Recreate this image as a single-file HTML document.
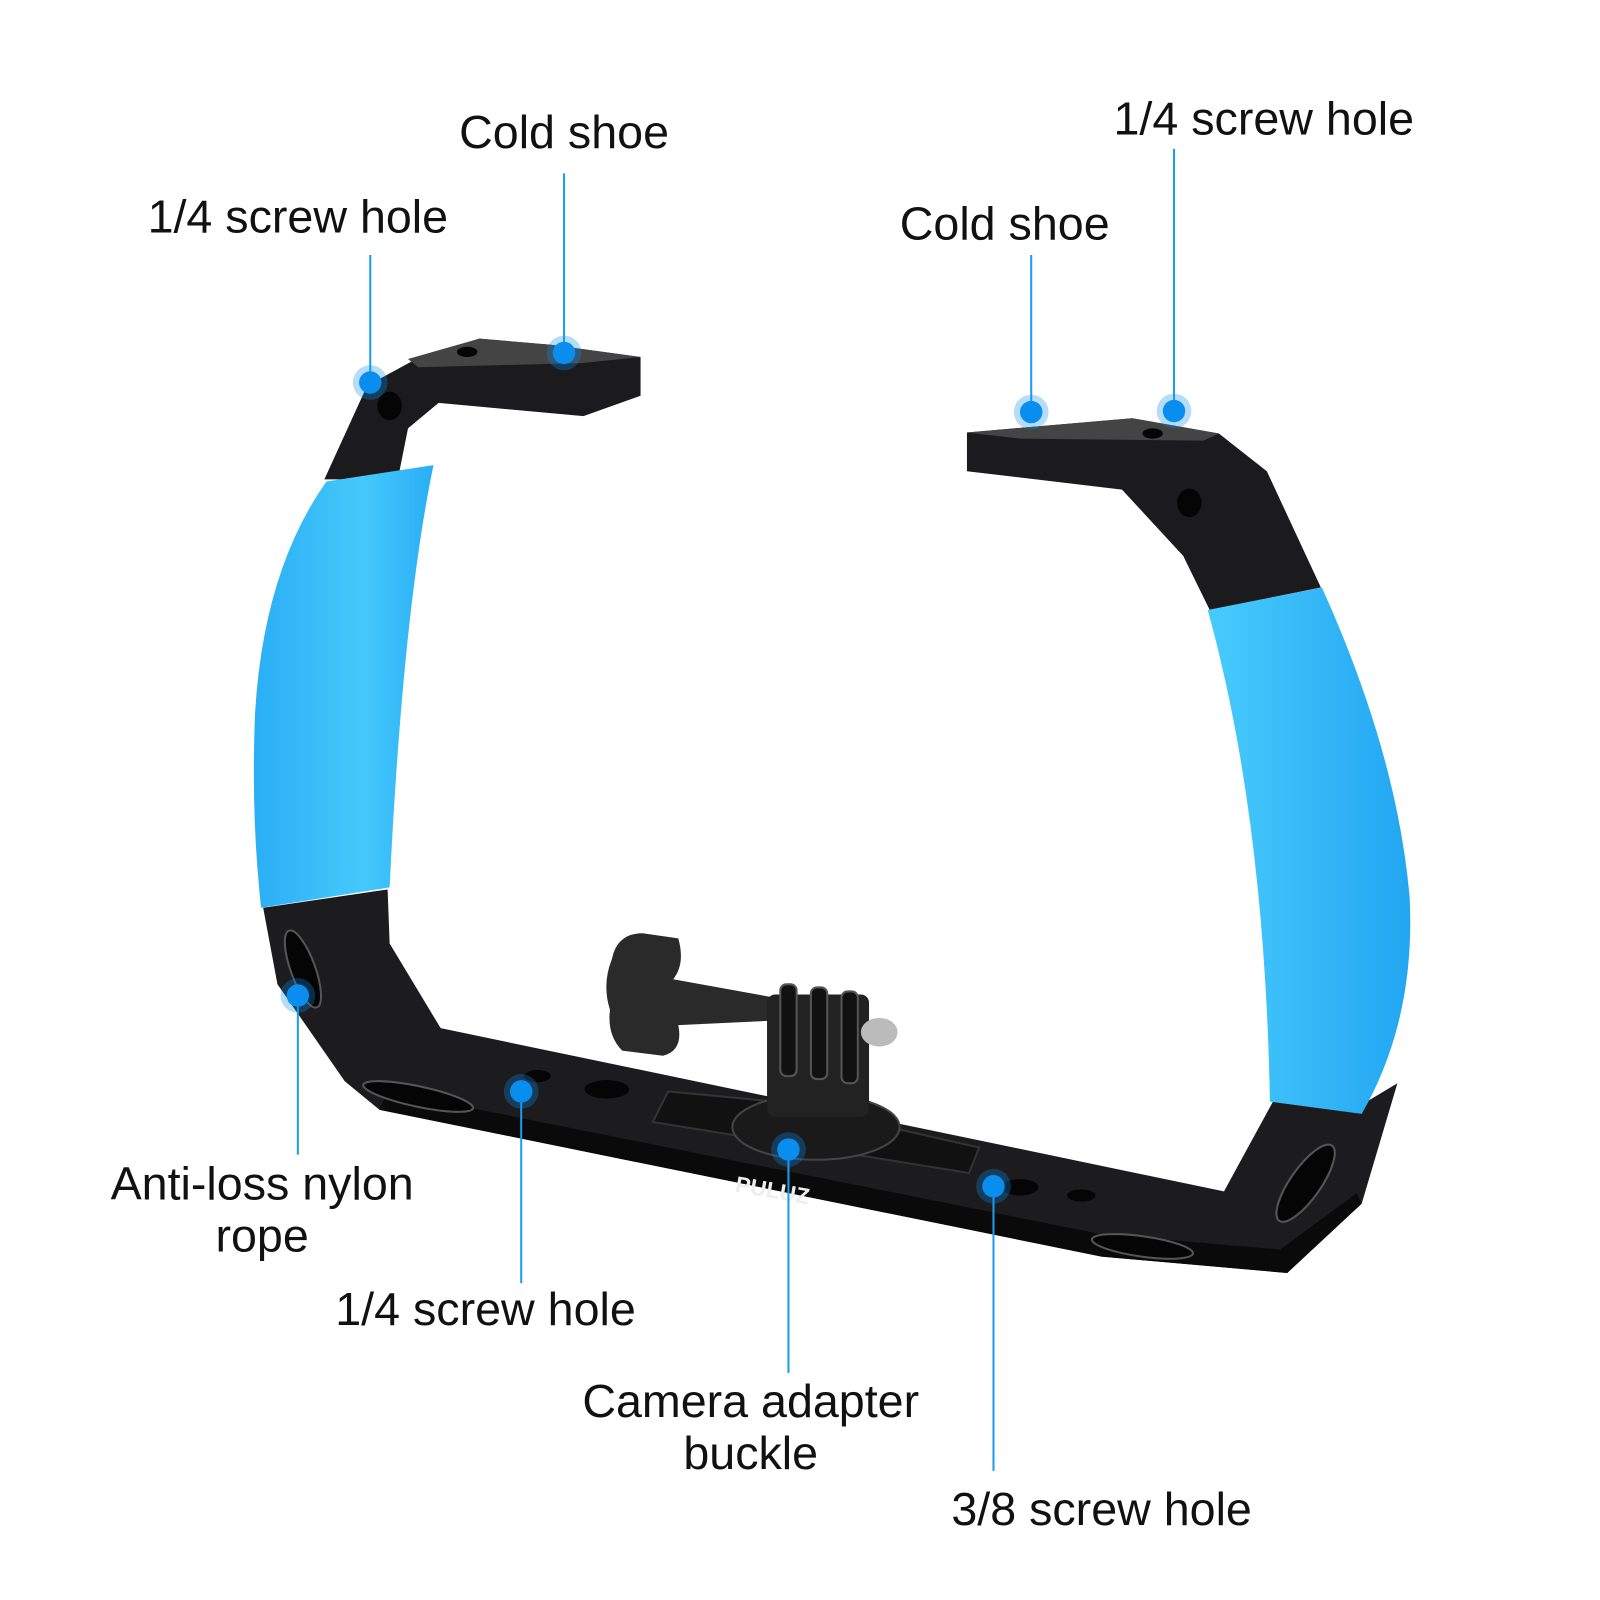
<!DOCTYPE html>
<html><head><meta charset="utf-8"><style>
html,body{margin:0;padding:0;background:#fff;width:1600px;height:1600px;overflow:hidden}
svg{display:block}
text{font-family:"Liberation Sans",sans-serif;font-size:45.7px;fill:#111}
</style></head><body>
<svg width="1600" height="1600" viewBox="0 0 1600 1600">
<defs>
<linearGradient id="bl" x1="0" x2="1" y1="0" y2="0"><stop offset="0" stop-color="#2aaef5"/><stop offset="0.6" stop-color="#45c9fb"/><stop offset="1" stop-color="#2aaef5"/></linearGradient>
<linearGradient id="br" x1="0" x2="1" y1="0" y2="0"><stop offset="0" stop-color="#48cbfc"/><stop offset="1" stop-color="#22a6f2"/></linearGradient>
</defs>
<g transform="scale(1.02)">
<!-- bottom bar -->
<polygon points="258,890 380,872 382,925 432,1008 1200,1168 1248,1080 1340,1080 1370,1062 1335,1180 1262,1248 1080,1232 372,1088 338,1060 272,965" fill="#1c1c1e"/>
<polygon points="372,1088 1080,1232 1262,1248 1335,1180 1330,1170 1255,1225 1080,1210 380,1070" fill="#0a0a0a"/>
<ellipse cx="410" cy="1075" rx="55" ry="10" transform="rotate(12 410 1075)" fill="#050505" stroke="#555" stroke-width="2"/>
<ellipse cx="1120" cy="1222" rx="50" ry="10" transform="rotate(8 1120 1222)" fill="#050505" stroke="#555" stroke-width="2"/>
<ellipse cx="297" cy="950" rx="12" ry="40" transform="rotate(-20 297 950)" fill="#050505" stroke="#555" stroke-width="2"/>
<ellipse cx="1280" cy="1160" rx="15" ry="45" transform="rotate(35 1280 1160)" fill="#050505" stroke="#555" stroke-width="2"/>
<ellipse cx="527" cy="1055" rx="13" ry="6" fill="#050505"/>
<ellipse cx="595" cy="1068" rx="22" ry="9" fill="#050505"/>
<ellipse cx="1000" cy="1164" rx="18" ry="8" fill="#050505"/>
<ellipse cx="1060" cy="1172" rx="14" ry="6" fill="#050505"/>
<polygon points="655,1070 760,1080 960,1125 950,1150 640,1100" fill="#111" stroke="#333" stroke-width="2"/>
<text x="720" y="1168" transform="rotate(10 720 1168)" style="font-size:22px;font-weight:bold;fill:#eee">PULUZ</text>
<!-- left top bracket -->
<polygon points="318,470 360,378 408,352 470,332 540,338 628,350 628,388 572,408 430,395 400,420 390,470" fill="#1b1b1d"/>
<polygon points="400,352 470,332 540,338 628,350 570,356 410,360" fill="#444"/>
<ellipse cx="382" cy="398" rx="12" ry="14" fill="#050505"/>
<ellipse cx="458" cy="345" rx="10" ry="5" fill="#050505"/>
<!-- left grip -->
<path d="M320,472 L425,456 Q395,600 382,870 L256,890 Q246,800 250,700 Q258,560 320,472Z" fill="url(#bl)"/>
<!-- right top bracket -->
<polygon points="948,424 1110,410 1195,425 1242,462 1295,576 1186,598 1160,545 1100,480 948,462" fill="#1b1b1d"/>
<polygon points="948,424 1110,410 1195,425 1180,432 1000,430" fill="#444"/>
<ellipse cx="1166" cy="493" rx="12" ry="14" fill="#050505"/>
<ellipse cx="1130" cy="425" rx="10" ry="5" fill="#050505"/>
<!-- right grip -->
<path d="M1184,598 L1296,576 Q1370,740 1382,880 Q1388,1000 1335,1092 L1245,1080 Q1240,800 1184,598Z" fill="url(#br)"/>
<!-- mount -->
<ellipse cx="800" cy="1105" rx="82" ry="32" fill="#1a1a1a" stroke="#444" stroke-width="2"/>
<path d="M600,940 Q605,915 630,915 L665,920 Q672,945 660,960 L770,980 L770,1000 L665,1005 Q670,1030 650,1035 L610,1030 Q595,1015 598,990 Q590,965 600,940Z" fill="#2a2a2a"/>
<rect x="752" y="975" width="100" height="120" rx="8" fill="#222"/>
<rect x="765" y="965" width="16" height="90" rx="6" fill="#111" stroke="#555" stroke-width="2"/>
<rect x="795" y="968" width="16" height="90" rx="6" fill="#111" stroke="#555" stroke-width="2"/>
<rect x="825" y="972" width="16" height="90" rx="6" fill="#111" stroke="#555" stroke-width="2"/>
<ellipse cx="862" cy="1012" rx="18" ry="14" fill="#bbb"/>
<!-- connectors -->
<g stroke="#1a9cf0" stroke-width="2">
<line x1="553" y1="170" x2="553" y2="346"/>
<line x1="363" y1="250" x2="363" y2="375"/>
<line x1="1011" y1="250" x2="1011" y2="404"/>
<line x1="1151" y1="146" x2="1151" y2="403"/>
<line x1="292" y1="976" x2="292" y2="1132"/>
<line x1="511" y1="1070" x2="511" y2="1258"/>
<line x1="773" y1="1127" x2="773" y2="1346"/>
<line x1="974" y1="1163" x2="974" y2="1442"/>
</g>
<g fill="#0a8ff0">
<circle cx="553" cy="346" r="11"/><circle cx="363" cy="375" r="11"/><circle cx="1011" cy="404" r="11"/><circle cx="1151" cy="403" r="11"/>
<circle cx="292" cy="976" r="11"/><circle cx="511" cy="1070" r="11"/><circle cx="773" cy="1127" r="11"/><circle cx="974" cy="1163" r="11"/>
</g>
<g fill="#0a8ff0" opacity="0.3">
<circle cx="553" cy="346" r="17"/><circle cx="363" cy="375" r="17"/><circle cx="1011" cy="404" r="17"/><circle cx="1151" cy="403" r="17"/>
<circle cx="292" cy="976" r="17"/><circle cx="511" cy="1070" r="17"/><circle cx="773" cy="1127" r="17"/><circle cx="974" cy="1163" r="17"/>
</g>
<!-- labels -->
<text x="553" y="145" text-anchor="middle">Cold shoe</text>
<text x="292" y="228" text-anchor="middle">1/4 screw hole</text>
<text x="985" y="235" text-anchor="middle">Cold shoe</text>
<text x="1239" y="132" text-anchor="middle">1/4 screw hole</text>
<text x="257" y="1176" text-anchor="middle">Anti-loss nylon</text>
<text x="257" y="1227" text-anchor="middle">rope</text>
<text x="476" y="1299" text-anchor="middle">1/4 screw hole</text>
<text x="736" y="1389" text-anchor="middle">Camera adapter</text>
<text x="736" y="1440" text-anchor="middle">buckle</text>
<text x="1080" y="1495" text-anchor="middle">3/8 screw hole</text>
</g>
</svg>
</body></html>
